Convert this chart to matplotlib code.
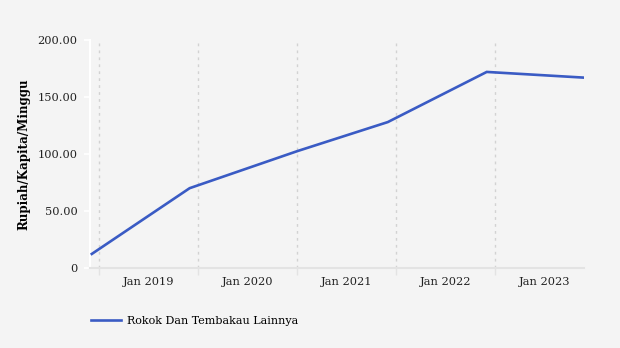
#! /usr/bin/python3
"""Pengeluaran rokok per kapita per minggu, 2018-2023."""

import numpy as np
import pandas as pd
import matplotlib
matplotlib.use("Agg")
import matplotlib.pyplot as plt
import matplotlib.dates as mdates

# data
dates = ["2018-12-05", "2019-12-01", "2021-01-01", "2021-12-01", "2022-12-01", "2023-11-25"]
values = [12.3, 70.0, 102.5, 128.0, 172.0, 167.0]
series_name = "Rokok Dan Tembakau Lainnya"
y_ticks = [0, 50, 100, 150, 200]
y_tick_labels = ["0", "50.00", "100.00", "150.00", "200.00"]
grid_years = [2019, 2020, 2021, 2022, 2023]
label_text = ["Jan 2019", "Jan 2020", "Jan 2021", "Jan 2022", "Jan 2023"]

bg = "#f4f4f4"
line_color = "#3a5bc4"

plt.rcParams["font.family"] = ["DejaVu Serif"]

fig = plt.figure(figsize=(6.2, 3.48), dpi=100, facecolor=bg)
ax = fig.add_axes([0.145, 0.23, 0.797, 0.655], facecolor=bg)

x = pd.to_datetime(dates)
ax.plot(x, values, color=line_color, linewidth=1.9, label=series_name,
        solid_joinstyle="miter", zorder=3)

ax.set_xlim(pd.Timestamp("2018-11-28"), x[-1])
ax.set_ylim(0, 200)

# gridlines at year starts, labels in the middle of each year
grid_x = [pd.Timestamp(f"{y}-01-01") for y in grid_years]
for g in grid_x:
  ax.axvline(g, ymin=0, ymax=0.985, color="#d2d2d2", linestyle=(0, (2, 3)),
             linewidth=1.0, zorder=1)
ax.set_xticks(grid_x)
ax.set_xticklabels([])
ax.tick_params(axis="x", length=5, color="#e3e3e3", width=1)
mid_x = [pd.Timestamp(f"{y}-07-02") for y in grid_years]
for m, t in zip(mid_x, label_text):
  ax.text(m, -0.04, t, transform=ax.get_xaxis_transform(), ha="center",
          va="top", fontsize=8.2, color="#222222")

ax.set_yticks(y_ticks)
ax.set_yticklabels(y_tick_labels, fontsize=8.2, color="#222222")
ax.tick_params(axis="y", length=4, color="white", width=1.2, pad=5)
ax.set_ylabel("Rupiah/Kapita/Minggu", fontsize=8.6, fontweight="bold",
              labelpad=5)

for side in ["top", "right"]:
  ax.spines[side].set_visible(False)
ax.spines["left"].set_color("white")
ax.spines["left"].set_linewidth(1.5)
ax.spines["bottom"].set_color("#e3e3e3")
ax.spines["bottom"].set_linewidth(1.5)

leg = fig.legend(loc="lower left", bbox_to_anchor=(0.13, 0.035), frameon=False,
                 fontsize=8.0, handlelength=2.7, handletextpad=0.6)

fig.savefig("out.png", dpi=100, facecolor=bg)
